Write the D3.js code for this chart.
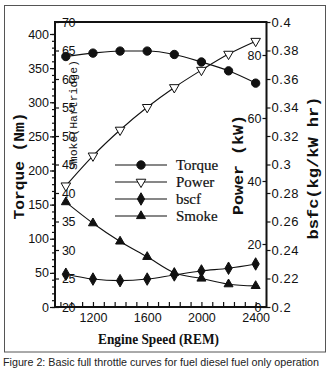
<!DOCTYPE html>
<html><head><meta charset="utf-8">
<script src="https://cdn.jsdelivr.net/npm/d3@7"></script>
<style>
html,body{margin:0;padding:0;background:#fff;}
svg{display:block;}
.tick text{font-family:"Liberation Sans",Arial,sans-serif;fill:#111;}
</style></head>
<body><svg id="c" width="334" height="375"></svg>
<script>
// ---- data ----
const rpm    = [1000, 1200, 1400, 1600, 1800, 2000, 2200, 2400];
const torque = [367, 372, 375, 375, 370, 359, 346, 328];          // Nm
const power  = [38.5, 48.0, 56.2, 63.4, 69.7, 75.2, 80.3, 84.4];  // kW
const bsfc   = [0.223, 0.2196, 0.2185, 0.2196, 0.2225, 0.2253, 0.2272, 0.2302]; // kg/kW hr
const smoke  = [38.4, 34.7, 31.5, 28.8, 26.0, 25.0, 24.0, 23.7];  // Hartridge

const torqueTicks = [0, 50, 100, 150, 200, 250, 300, 350, 400];
const smokeTicks  = [20, 25, 30, 35, 40, 45, 50, 55, 60, 65, 70];
const powerTicks  = [0, 20, 40, 60, 80];
const bsfcTicks   = [0.2, 0.22, 0.24, 0.26, 0.28, 0.3, 0.32, 0.34, 0.36, 0.38, 0.4];
const xLabelTicks = [1200, 1600, 2000, 2400];
const legendNames = ["Torque", "Power", "bscf", "Smoke"];
const caption = "Figure 2: Basic full throttle curves for fuel diesel fuel only operation";

// ---- layout ----
const L = 55, R = 266.5, T = 22, B = 307;
const svg = d3.select("#c");
const ink = "#111";

const x  = d3.scaleLinear().domain([920, 2480]).range([L, R]);
const yT = d3.scaleLinear().domain([0, 400]).range([B, 34]);
const yS = d3.scaleLinear().domain([20, 70]).range([B, T]);
const yP = d3.scaleLinear().domain([0, 80]).range([B, 55]);
const yB = d3.scaleLinear().domain([0.2, 0.4]).range([B, T]);

// outer border
svg.append("rect").attr("x", 4.5).attr("y", 5.5).attr("width", 321).attr("height", 346.5)
  .attr("fill", "none").attr("stroke", "#555").attr("stroke-width", 1);

function styleAxis(g, fs) {
  g.select(".domain").remove();
  g.selectAll(".tick line").attr("stroke", ink).attr("stroke-width", 1.2);
  g.selectAll(".tick text").attr("font-size", fs);
}

// x axis ticks (every 80 rpm, pointing up)
const xMinor = d3.range(960, 2401, 80);
const gx = svg.append("g").attr("transform", `translate(0,${B})`)
  .call(d3.axisBottom(x).tickValues(xMinor).tickSizeInner(-5).tickSizeOuter(0).tickPadding(6)
    .tickFormat(d => xLabelTicks.includes(d) ? d : ""));
styleAxis(gx, 12);
gx.selectAll(".tick text").attr("font-size", 12.5);

// torque axis (left, outside)
const gtm = svg.append("g").attr("transform", `translate(${L},0)`)
  .call(d3.axisLeft(yT).tickValues(d3.range(0, 401, 10)).tickSize(3).tickFormat(""));
styleAxis(gtm, 12);
const gt = svg.append("g").attr("transform", `translate(${L},0)`)
  .call(d3.axisLeft(yT).tickValues(torqueTicks).tickSize(5).tickPadding(1));
styleAxis(gt, 12.5);

// smoke axis (left, inside)
const gs = svg.append("g").attr("transform", `translate(${L},0)`)
  .call(d3.axisRight(yS).tickValues(smokeTicks).tickSize(4).tickPadding(3));
styleAxis(gs, 12.5);
gs.selectAll(".tick text").attr("letter-spacing", -0.5);

// power axis (right, inside)
const gp = svg.append("g").attr("transform", `translate(${R},0)`)
  .call(d3.axisLeft(yP).tickValues(powerTicks).tickSize(4).tickPadding(1));
styleAxis(gp, 12.5);

// bsfc axis (right, outside)
const gb = svg.append("g").attr("transform", `translate(${R},0)`)
  .call(d3.axisRight(yB).tickValues(bsfcTicks).tickSize(4).tickPadding(1)
    .tickFormat(d => String(+d.toFixed(2))));
styleAxis(gb, 13);
gb.selectAll(".tick text").attr("letter-spacing", 0.6);

// plot frame
svg.append("path")
  .attr("d", `M${L},${B}V${T}H${R}V${B}H${L}`)
  .attr("fill", "none").attr("stroke", ink).attr("stroke-width", 2);

// ---- series ----
const series = [
  { name: legendNames[0], vals: torque, y: yT, sym: d3.symbolCircle,   size: 55, rot: 0,   fill: ink },
  { name: legendNames[1], vals: power,  y: yP, sym: d3.symbolTriangle, size: 40, rot: 180, fill: "#fff" },
  { name: legendNames[2], vals: bsfc,   y: yB, sym: d3.symbolDiamond,  size: 45, rot: 0,   fill: ink },
  { name: legendNames[3], vals: smoke,  y: yS, sym: d3.symbolTriangle, size: 35, rot: 0,   fill: ink }
];

const line = d3.line().curve(d3.curveMonotoneX);
series.forEach(s => {
  const pts = rpm.map((r, i) => [x(r), s.y(s.vals[i])]);
  svg.append("path").attr("d", line(pts)).attr("fill", "none")
    .attr("stroke", ink).attr("stroke-width", 1.1);
  svg.append("g").selectAll("path").data(pts).join("path")
    .attr("d", d3.symbol(s.sym, s.size))
    .attr("transform", d => `translate(${d[0]},${d[1]}) rotate(${s.rot})`)
    .attr("fill", s.fill).attr("stroke", ink).attr("stroke-width", 1);
});

// ---- legend ----
const lg = svg.append("g");
series.forEach((s, i) => {
  const yy = 165 + i * 17;
  lg.append("line").attr("x1", 115).attr("x2", 167).attr("y1", yy).attr("y2", yy)
    .attr("stroke", ink).attr("stroke-width", 1.1);
  lg.append("path").attr("d", d3.symbol(s.sym, s.size)())
    .attr("transform", `translate(141,${yy}) rotate(${s.rot})`)
    .attr("fill", s.fill).attr("stroke", ink).attr("stroke-width", 1);
  lg.append("text").attr("x", 176).attr("y", yy + 5)
    .attr("font-family", "'Liberation Serif','Times New Roman',serif")
    .attr("font-size", 15).attr("fill", ink).attr("stroke", ink).attr("stroke-width", 0.2)
    .text(s.name);
});

// ---- axis titles ----
function vtitle(txt, xb, yc, len, fs, weight) {
  svg.append("text")
    .attr("transform", `translate(${xb},${yc}) rotate(-90)`)
    .attr("text-anchor", "middle")
    .attr("font-family", "'Liberation Mono','Courier New',monospace")
    .attr("font-weight", weight).attr("font-size", fs).attr("fill", ink)
    .attr("textLength", len).attr("lengthAdjust", "spacingAndGlyphs")
    .text(txt);
}
vtitle("Torque (Nm)", 24, 166, 107, 15, "bold");
vtitle("Smoke(Hartridge)", 77, 115, 110, 11, "normal");
vtitle("Power (kW)", 243, 165, 100, 15, "bold");
vtitle("bsfc(kg/kW hr)", 318, 168, 143, 15, "bold");

svg.append("text").attr("x", 158.5).attr("y", 344).attr("text-anchor", "middle")
  .attr("font-family", "'Liberation Serif','Times New Roman',serif")
  .attr("font-weight", "bold").attr("font-size", 14).attr("fill", ink)
  .attr("textLength", 121).attr("lengthAdjust", "spacingAndGlyphs")
  .text("Engine Speed (REM)");

svg.append("text").attr("x", 3).attr("y", 366)
  .attr("font-family", "'Liberation Sans',Arial,sans-serif")
  .attr("font-size", 11).attr("fill", "#222")
  .attr("textLength", 316).attr("lengthAdjust", "spacingAndGlyphs")
  .text(caption);
</script></body></html>
